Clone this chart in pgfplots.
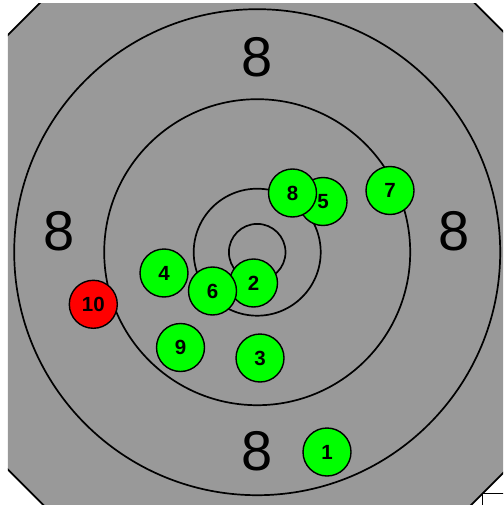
\documentclass[border=0pt]{standalone}
\usepackage{pgfplots}
\pgfplotsset{compat=1.18}
\usepackage{pgfplotstable}
\usepackage{fontspec}
\setmainfont{Liberation Sans}
\usetikzlibrary{calc}
\definecolor{tgray}{RGB}{153,153,153}
\definecolor{tgreen}{RGB}{0,255,0}
\definecolor{tred}{RGB}{255,0,0}

\pgfplotstableread{
x y lab
327 452 1
253.5 283 2
260 358 3
164 273 4
323 201.5 5
212.5 291 6
390 190.5 7
292.5 193 8
180.5 347.5 9
}\greenshots
\pgfplotstableread{
x y lab
93.3 304.3 10
}\redshots

\begin{document}
\begin{tikzpicture}
\begin{axis}[
  scale only axis,
  width=495pt, height=501pt,
  xmin=8, xmax=503, ymin=4, ymax=505,
  y dir=reverse,
  hide axis,
  clip=true,
]
% octagon background
\filldraw[fill=tgray, draw=black, line width=1.8pt]
  (120.55,-77.75) -- (393.95,-77.75) -- (587.25,115.55) -- (587.25,388.95)
  -- (393.95,582.25) -- (120.55,582.25) -- (-72.75,388.95) -- (-72.75,115.55) -- cycle;
% small box in lower right corner
\filldraw[fill=white, draw=black, line width=1.6pt] (482.5,493.5) rectangle (530,530);
% rings
\draw[line width=1.7pt] (257.2,252.2) circle[radius=243pt];
\draw[line width=1.7pt] (257.2,252.2) circle[radius=153pt];
\draw[line width=1.7pt] (257.2,252.2) circle[radius=63.5pt];
\draw[line width=1.7pt] (257.2,252.2) circle[radius=28.3pt];
% ring numbers
\node[inner sep=0pt, font=\fontsize{56}{56}\selectfont] at (257,57) {8};
\node[inner sep=0pt, font=\fontsize{56}{56}\selectfont] at (257,451.5) {8};
\node[inner sep=0pt, font=\fontsize{56}{56}\selectfont] at (59.5,231) {8};
\node[inner sep=0pt, font=\fontsize{56}{56}\selectfont] at (454,231) {8};
% shots
\addplot[only marks, mark=*, mark size=24pt,
  mark options={fill=tgreen, draw=black, line width=1.4pt},
  nodes near coords, point meta=explicit symbolic,
  nodes near coords align={center},
  every node near coord/.append style={anchor=center, inner sep=0pt,
    font=\bfseries\fontsize{20.5}{20.5}\selectfont, text=black}]
  table[x=x, y=y, meta=lab] {\greenshots};
\addplot[only marks, mark=*, mark size=24pt,
  mark options={fill=tred, draw=black, line width=1.4pt},
  nodes near coords, point meta=explicit symbolic,
  nodes near coords align={center},
  every node near coord/.append style={anchor=center, inner sep=0pt,
    font=\bfseries\fontsize{20.5}{20.5}\selectfont, text=black}]
  table[x=x, y=y, meta=lab] {\redshots};
\end{axis}
\pgfresetboundingbox
\useasboundingbox ($(current axis.north west)+(-8pt,4pt)$) rectangle (current axis.south east);
\end{tikzpicture}
\end{document}
